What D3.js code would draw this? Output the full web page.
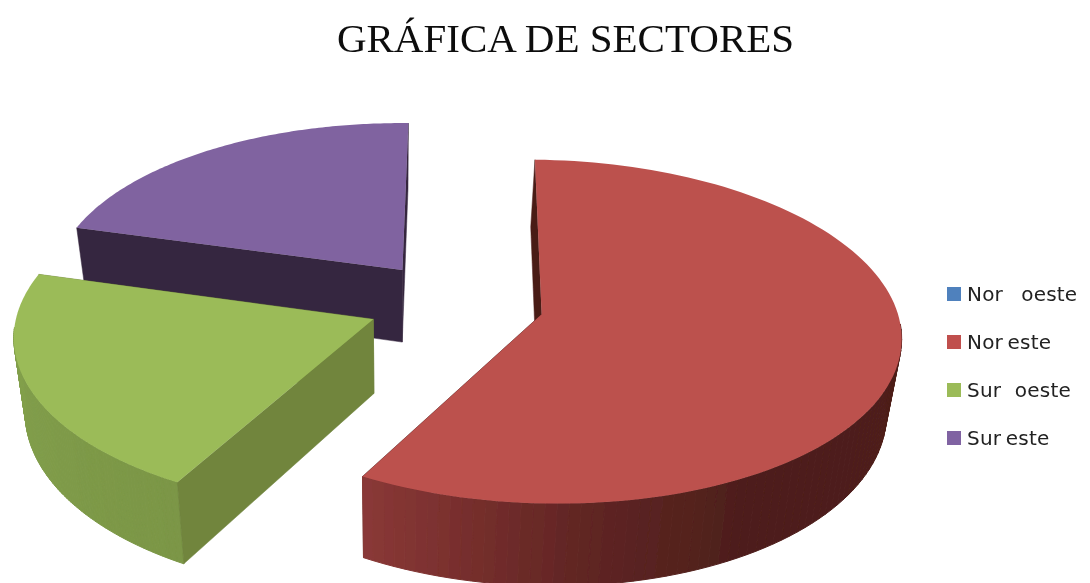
<!DOCTYPE html>
<html>
<head>
<meta charset="utf-8">
<script src="https://cdn.jsdelivr.net/npm/d3@7"></script>
<style>
html, body { margin: 0; padding: 0; background: #fff; }
svg { display: block; }
text { white-space: pre; }
</style>
</head>
<body>
<svg width="1090" height="583"></svg>
<script>
const title = "GRÁFICA DE SECTORES";
const categories = ["Nor    oeste", "Nor este", "Sur   oeste", "Sur este"];
const values = [0, 57.9, 21.1, 21.0];
const topColors = ["#4f81bd", "#bc514e", "#9bbb59", "#8063a0"];
const legendColors = ["#4f81bd", "#c0504d", "#9bbb59", "#8064a2"];
const faceColors = ["#2c4a6e", "#4a1c18", "#71853e", "#35263f"];
// outer wall colours, from the start of a slice to its end
const rimStops = [
    ["#3d6391", "#3d6391"],
    ["#4a1c18", "#4e1f1b", "#5f2523", "#7a302e", "#8b3a38"],
    ["#7b9646", "#84a24c"],
    ["#35263f", "#4b3a60"]
];

const svg = d3.select("svg");
const deg = Math.PI / 180;

// 3D look: disc coordinates go through a small perspective projection
const view = { cx: 455, cy: 303, rx: 352, ry: 167, k: 0.1, vx: -0.17, y0: 0.056, depth: 77, shrink: 0.03 };
const explode = 0.25;

function project(x, y, d) {
    const w = 1 / (1 - view.k * (y + view.y0));
    const s = 1 - view.shrink * d;
    const px = view.cx + view.vx * view.rx + view.rx * (x - view.vx) * w * s;
    const py = view.cy + view.ry * y * w + view.depth * d * w * (1 - 0.5 * view.k);
    return [px, py];
}

const pie = d3.pie().sort(null).startAngle(1.2 * deg).endAngle(361.2 * deg);
const arcs = pie(values).map((a, i) => ({ ...a, i }));
const line = d3.line();

function rimPoint(a, ang, d) {
    const mid = (a.startAngle + a.endAngle) / 2;
    const ox = explode * Math.sin(mid), oy = -explode * Math.cos(mid);
    return project(ox + Math.sin(ang), oy - Math.cos(ang), d);
}
function apexPoint(a, d) {
    const mid = (a.startAngle + a.endAngle) / 2;
    return project(explode * Math.sin(mid), -explode * Math.cos(mid), d);
}
function sideWall(g, a, ang, color) {
    g.append("path")
        .attr("d", line([apexPoint(a, 0), rimPoint(a, ang, 0), rimPoint(a, ang, 1), apexPoint(a, 1)]) + "Z")
        .attr("fill", color)
        .attr("stroke", color)
        .attr("stroke-width", 0.5);
}

const defs = svg.append("defs");
defs.append("filter").attr("id", "soft")
    .append("feGaussianBlur").attr("stdDeviation", 0.6);

const chart = svg.append("g").attr("class", "pie").attr("filter", "url(#soft)");

// back slices first so the front ones cover them
[3, 2, 1].forEach(i => {
    const a = arcs[i];
    const g = chart.append("g");
    const steps = d3.range(0, 1.0001, 1 / 120).map(t => a.startAngle + t * (a.endAngle - a.startAngle));

    sideWall(g, a, a.endAngle, faceColors[i]);

    // outer wall, stepped shading
    const stops = rimStops[i];
    const shade = d3.scaleLinear()
        .domain(stops.map((c, n) => {
            const t = stops.length === 2 ? n : [0, 0.72, 0.83, 0.93, 1][n];
            return a.startAngle + t * (a.endAngle - a.startAngle);
        }))
        .range(stops)
        .interpolate(d3.interpolateRgb);
    d3.pairs(steps).forEach(([p, q]) => {
        if (Math.cos(p) > -0.05) return; // back of the disc is never seen
        g.append("path")
            .attr("d", line([rimPoint(a, p, 0), rimPoint(a, q, 0), rimPoint(a, q, 1), rimPoint(a, p, 1)]) + "Z")
            .attr("fill", shade(p))
            .attr("stroke", shade(p))
            .attr("stroke-width", 1);
    });

    sideWall(g, a, a.startAngle, faceColors[i]);

    // top face
    g.append("path")
        .attr("d", line([apexPoint(a, 0), ...steps.map(s => rimPoint(a, s, 0))]) + "Z")
        .attr("fill", topColors[i]);
});

svg.append("text")
    .attr("x", 565.5)
    .attr("y", 52)
    .attr("text-anchor", "middle")
    .attr("font-family", "Liberation Serif")
    .attr("font-size", 41)
    .attr("fill", "#111")
    .attr("filter", "url(#soft)")
    .text(title);

const legendY = d3.scalePoint().domain(categories).range([294, 438]);
const legend = svg.append("g").attr("filter", "url(#soft)").selectAll("g")
    .data(categories)
    .enter()
    .append("g")
    .attr("transform", d => `translate(947,${legendY(d)})`);

legend.append("rect")
    .attr("y", -7)
    .attr("width", 14)
    .attr("height", 14)
    .attr("fill", (d, i) => legendColors[i]);

legend.append("text")
    .attr("x", 20)
    .attr("y", 7)
    .attr("font-family", "DejaVu Sans")
    .attr("font-size", 20)
    .attr("word-spacing", -2)
    .attr("letter-spacing", 0.2)
    .attr("fill", "#222")
    .text(d => d);
</script>
</body>
</html>
